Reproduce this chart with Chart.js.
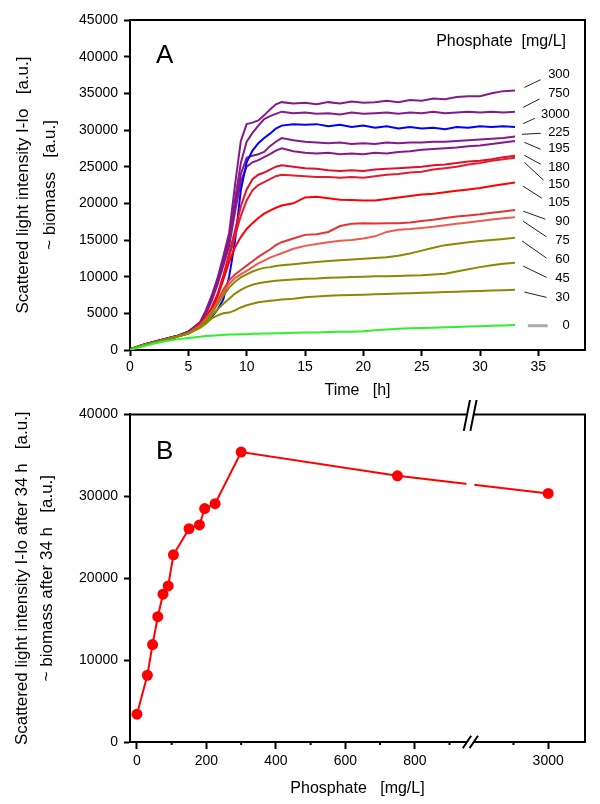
<!DOCTYPE html>
<html>
<head>
<meta charset="utf-8">
<script src="https://cdn.jsdelivr.net/npm/chart.js@4.4.1/dist/chart.umd.min.js"></script>
<style>
  body { margin: 0; background: #fff; }
  #wrap { position: relative; width: 600px; height: 804px; }
  canvas { position: absolute; left: 0; }
</style>
</head>
<body>
<div id="wrap">
  <canvas id="chartA" width="600" height="400" style="top:0"></canvas>
  <canvas id="chartB" width="600" height="404" style="top:400px"></canvas>
</div>
<script>
// ---- Panel A : scattered light vs time, one curve per phosphate level ----
const hours = [0, 1, 2, 3, 4, 5, 6,
  6.5, 7, 7.5, 8, 8.5, 9, 9.5, 10, 10.5, 11, 11.5, 12, 12.5, 13,
  14, 15, 16, 17, 18, 19, 20, 21, 22, 23, 24, 25, 26, 27, 28, 29, 30, 31, 32, 33];

const c0 = [0, 450, 850, 1200, 1450, 1650, 1800,
  1900, 1950, 2000, 2050, 2100, 2100, 2150, 2150, 2200, 2200, 2250, 2250, 2300, 2300,
  2350, 2400, 2400, 2450, 2500, 2500, 2550, 2700, 2800, 2900, 2950, 3000, 3050, 3100, 3150, 3200, 3250, 3300, 3350, 3400];
const c30 = [100, 600, 1000, 1400, 1800, 2200, 3000,
  3600, 4300, 4700, 5000, 5100, 5400, 5800, 6100, 6300, 6500, 6600, 6700, 6800, 6900,
  7000, 7200, 7300, 7400, 7450, 7500, 7550, 7600, 7650, 7700, 7750, 7800, 7850, 7900, 7950, 8000, 8050, 8100, 8150, 8200];
const c45 = [100, 600, 1000, 1400, 1800, 2250, 3100,
  3800, 4700, 5500, 6300, 7000, 7700, 8200, 8600, 8900, 9100, 9250, 9350, 9450, 9500,
  9600, 9700, 9750, 9850, 9900, 9950, 10000, 10050, 10050, 10100, 10150, 10200, 10300, 10400, 10700, 11000, 11300, 11550, 11750, 11900];
const c60 = [100, 600, 1000, 1400, 1800, 2300, 3200,
  4000, 5000, 6200, 7400, 8500, 9300, 9900, 10300, 10700, 11000, 11200, 11300, 11450, 11550,
  11700, 11850, 12000, 12150, 12250, 12350, 12450, 12550, 12650, 12850, 13150, 13550, 13950, 14300, 14500, 14700, 14850, 15000, 15150, 15300];
const c75 = [100, 600, 1000, 1400, 1800, 2300, 3300,
  4200, 5200, 6400, 7800, 9000, 9800, 10300, 10800, 11300, 11800, 12200, 12600, 12900, 13200,
  13800, 14200, 14450, 14700, 14900, 15000, 15200, 15500, 16100, 16400, 16500, 16650, 16800, 17000, 17200, 17400, 17600, 17800, 17950, 18100];
const c90 = [100, 600, 1000, 1400, 1800, 2300, 3300,
  4200, 5300, 6700, 8200, 9500, 10300, 10900, 11500, 12100, 12700, 13200, 13700, 14300, 14700,
  15200, 15700, 15800, 16100, 16900, 17200, 17300, 17250, 17300, 17300, 17400, 17600, 17750, 18000, 18200, 18350, 18500, 18700, 18900, 19100];
const c105 = [100, 600, 1000, 1400, 1800, 2300, 3400,
  4400, 5600, 7300, 9600, 12000, 14000, 15400, 16500, 17300, 18000, 18600, 19000, 19400, 19700,
  20000, 20800, 20900, 20700, 20500, 20450, 20400, 20400, 20600, 20800, 21000, 21200, 21300, 21500, 21700, 21900, 22100, 22350, 22600, 22850];
const c150 = [100, 600, 1000, 1400, 1800, 2300, 3500,
  4500, 5700, 7400, 9900, 12700, 15500, 18300, 20400, 21800, 22500, 22900, 23300, 23700, 23900,
  23800, 23700, 23600, 23600, 23500, 23600, 23500, 23700, 23900, 24000, 24200, 24300, 24600, 24800, 25000, 25300, 25500, 25800, 26000, 26200];
const c180 = [100, 600, 1000, 1400, 1800, 2300, 3600,
  4500, 5800, 7600, 10200, 13200, 16300, 19600, 21900, 23300, 23900, 24200, 24600, 25000, 25200,
  25000, 24800, 24700, 24500, 24400, 24500, 24400, 24600, 24700, 24800, 24900, 25000, 25200, 25300, 25500, 25700, 25800, 26000, 26300, 26500];
const c195 = [100, 650, 1100, 1500, 1900, 2500, 3600,
  4900, 6700, 8900, 11500, 14200, 18800, 23000, 25000, 25600, 25900, 26300, 26700, 27200, 27500,
  27100, 26900, 26800, 26900, 26700, 26800, 26700, 26900, 26800, 27000, 27100, 27300, 27400, 27500, 27600, 27800, 27900, 28100, 28300, 28500];
const c225 = [100, 650, 1100, 1500, 1900, 2500, 3600,
  5000, 6900, 9200, 12000, 14800, 19500, 24000, 26200, 26500, 26700, 27000, 27800, 28400, 28900,
  28600, 28400, 28300, 28200, 28300, 28100, 28200, 28100, 28300, 28200, 28300, 28300, 28400, 28400, 28500, 28600, 28700, 28800, 28900, 29100];
const c300 = [100, 650, 1100, 1500, 1900, 2500, 3800,
  5400, 7400, 9800, 12800, 16000, 22500, 28500, 30800, 31000, 31300, 32000, 32800, 33500, 33800,
  33600, 33700, 33500, 33800, 33600, 33900, 33700, 33800, 34000, 33800, 34100, 34000, 34300, 34200, 34500, 34600, 34600, 35000, 35300, 35400];
const c750 = [100, 650, 1100, 1500, 1900, 2500, 3700,
  5200, 7200, 9500, 12400, 15200, 20500, 25500, 28400, 29600, 30600, 31500, 31900, 32200, 32500,
  32300, 32400, 32200, 32300, 32100, 32400, 32200, 32300, 32400, 32200, 32400, 32300, 32500, 32300, 32400, 32500, 32400, 32500, 32400, 32500];
const c3000 = [100, 600, 1000, 1400, 1800, 2300, 3100,
  3700, 4500, 5500, 6900, 10000, 14800, 21800, 25600, 27200, 28200, 28900, 29500, 30200, 30600,
  30800, 30700, 30800, 30500, 30700, 30400, 30600, 30300, 30500, 30200, 30400, 30200, 30300, 30100, 30400, 30300, 30500, 30400, 30500, 30400];

// first one is drawn on top
const curveLevels = ['0', '30', '45', '60', '75', '90', '105', '150', '180', '3000', '195', '225', '300', '750'];
const curveValues = [c0, c30, c45, c60, c75, c90, c105, c150, c180, c3000, c195, c225, c300, c750];
const curveColors = ['#2ef02e', '#8a8a00', '#8a8a00', '#8a8a00', '#f05a4c', '#e33434', '#ff0000',
  '#e41c30', '#e0102c', '#0000ff', '#861a8a', '#861a8a', '#861a8a', '#861a8a'];

// right hand labels (top to bottom), positions in data units of panel A
const labelNames = ['300', '750', '3000', '225', '195', '180', '150', '105', '90', '75', '60', '45', '30', '0'];
const labelY = [37580, 34990, 32170, 29680, 27460, 24920, 22600, 20190, 17470, 14930, 12390, 9800, 7220, 3400];
const leaderFromX = [33.8, 33.7, 33.7, 33.6, 33.8, 33.8, 33.8, 33.7, 33.7, 33.7, 33.6, 33.7, 33.8, 34.1];
const leaderFromY = [35810, 33090, 30870, 29410, 28320, 26550, 25600, 22330, 18930, 17560, 14880, 11440, 7900, 3310];
const leaderToX = [35.2, 35.1, 34.7, 35.2, 35.2, 35.2, 35.45, 35.3, 35.6, 35.7, 35.7, 35.7, 35.7, 35.8];
const leaderToY = [36860, 34220, 31590, 29550, 27370, 25330, 23150, 20700, 17840, 15430, 12530, 9900, 7180, 3310];

// ---- Panel B : biomass after 34 h vs phosphate ----
const phosphate = [0, 30, 45, 60, 75, 90, 105, 150, 180, 195, 225, 300, 750, 3000];
const biomass34h = [3400, 8150, 11900, 15300, 18050, 19050, 22850, 26050, 26500, 28500, 29100, 35400, 32500, 30350];
const phosTickLabels = [0, 200, 400, 600, 800, 3000];
const phosMinorTicks = [100, 300, 500, 700, 900, 2900];

// broken x axis: everything above the break is shifted left
const BREAK_AT = 960;
const BREAK_SHIFT = 1816;
const toAxis = p => (p > BREAK_AT ? p - BREAK_SHIFT : p);
const fromAxis = v => (v > BREAK_AT ? v + BREAK_SHIFT : v);

const FONT = 'Arial, "Liberation Sans", Helvetica, sans-serif';
Chart.defaults.font.family = FONT;
Chart.defaults.color = '#000';

const axisGrid = { drawOnChartArea: false, drawTicks: true, tickLength: 6, tickColor: '#000', tickWidth: 2 };
const axisBorder = { display: true, color: '#000', width: 2 };

// frame + labels of panel A
const panelAPlugin = {
  id: 'panelA',
  afterDraw(chart) {
    const { ctx, chartArea: a, scales: { x, y } } = chart;
    ctx.save();
    ctx.strokeStyle = '#000';
    ctx.lineWidth = 2;
    ctx.beginPath();
    ctx.moveTo(a.left, a.top);
    ctx.lineTo(a.right, a.top);
    ctx.lineTo(a.right, a.bottom);
    ctx.stroke();

    ctx.fillStyle = '#000';
    ctx.textBaseline = 'alphabetic';
    ctx.textAlign = 'left';
    ctx.font = '26px ' + FONT;
    ctx.fillText('A', a.left + 26, a.top + 43);

    ctx.font = '16px ' + FONT;
    ctx.textAlign = 'right';
    ctx.textBaseline = 'middle';
    ctx.fillText('Phosphate  [mg/L]', a.right - 19, a.top + 22);

    ctx.font = '13px ' + FONT;
    labelNames.forEach((name, i) => {
      const last = name === '0';
      ctx.strokeStyle = last ? '#aaaaaa' : '#222';
      ctx.lineWidth = last ? 3 : 1;
      ctx.beginPath();
      ctx.moveTo(x.getPixelForValue(leaderFromX[i]), y.getPixelForValue(leaderFromY[i]));
      ctx.lineTo(x.getPixelForValue(leaderToX[i]), y.getPixelForValue(leaderToY[i]));
      ctx.stroke();
      ctx.fillText(name, x.getPixelForValue(37.7), y.getPixelForValue(labelY[i]));
    });
    ctx.restore();
  }
};

new Chart(document.getElementById('chartA'), {
  type: 'line',
  data: {
    datasets: curveLevels.map((level, k) => ({
      label: level,
      data: hours.map((t, i) => ({ x: t, y: curveValues[k][i] })),
      borderColor: curveColors[k],
      borderWidth: 2,
      pointRadius: 0,
      tension: 0,
      fill: false
    }))
  },
  options: {
    responsive: false,
    animation: false,
    layout: { padding: { left: 0, right: 15, top: 20, bottom: 0 } },
    plugins: { legend: { display: false }, tooltip: { enabled: false } },
    scales: {
      x: {
        type: 'linear', min: 0, max: 39,
        afterFit: s => { s.height = 50; },
        ticks: { stepSize: 5, includeBounds: false, maxRotation: 0, padding: 3, font: { size: 14 }, callback: v => String(v) },
        grid: axisGrid,
        border: axisBorder,
        title: { display: true, text: 'Time   [h]', font: { size: 16 }, padding: { top: 0, bottom: 0 } }
      },
      y: {
        min: 0, max: 45000,
        afterFit: s => { s.width = 130; },
        ticks: { stepSize: 5000, padding: 6, font: { size: 14 }, callback: v => String(v) },
        grid: axisGrid,
        border: axisBorder,
        title: {
          display: true,
          text: ['Scattered light intensity I-Io   [a.u.]', '~ biomass   [a.u.]'],
          font: { size: 17, lineHeight: '27px' },
          padding: { top: 9.5, bottom: 0 }
        }
      }
    }
  },
  plugins: [panelAPlugin]
});

// frame, axis break, minor ticks of panel B
const panelBPlugin = {
  id: 'panelB',
  afterDatasetsDraw(chart) {
    const { ctx, chartArea: a, scales: { x } } = chart;
    const xb = x.getPixelForValue(BREAK_AT);
    ctx.save();
    ctx.fillStyle = '#fff';
    ctx.fillRect(xb - 4, a.top + 25, 8, a.bottom - a.top - 50);
    ctx.restore();
  },
  afterDraw(chart) {
    const { ctx, chartArea: a, scales: { x } } = chart;
    const xb = x.getPixelForValue(BREAK_AT);
    ctx.save();
    ctx.strokeStyle = '#000';
    ctx.lineWidth = 2;

    // minor ticks
    ctx.beginPath();
    phosMinorTicks.forEach(p => {
      const px = x.getPixelForValue(toAxis(p));
      ctx.moveTo(px, a.bottom);
      ctx.lineTo(px, a.bottom + 3);
    });
    ctx.stroke();

    // top and right frame, top broken
    ctx.beginPath();
    ctx.moveTo(a.left, a.top);
    ctx.lineTo(xb - 3.3, a.top);
    ctx.moveTo(xb + 3.3, a.top);
    ctx.lineTo(a.right, a.top);
    ctx.lineTo(a.right, a.bottom);
    ctx.stroke();

    // break on bottom axis
    ctx.fillStyle = '#fff';
    ctx.fillRect(xb - 3.4, a.bottom - 3, 6.8, 6);

    ctx.beginPath();
    [-3.3, 3.3].forEach(d => {
      ctx.moveTo(xb + d - 3.3, a.top + 16.5);
      ctx.lineTo(xb + d + 3.3, a.top - 16.5);
    });
    [-3.4, 3.4].forEach(d => {
      ctx.moveTo(xb + d - 4.2, a.bottom + 6.3);
      ctx.lineTo(xb + d + 4.2, a.bottom - 6.3);
    });
    ctx.stroke();

    ctx.fillStyle = '#000';
    ctx.textAlign = 'left';
    ctx.textBaseline = 'alphabetic';
    ctx.font = '26px ' + FONT;
    ctx.fillText('B', a.left + 26, a.top + 44.5);
    ctx.restore();
  }
};

new Chart(document.getElementById('chartB'), {
  type: 'line',
  data: {
    datasets: [{
      label: 'after 34 h',
      data: phosphate.map((p, i) => ({ x: toAxis(p), y: biomass34h[i] })),
      borderColor: '#ff0000',
      borderWidth: 2,
      backgroundColor: '#ff0000',
      pointBackgroundColor: '#ff0000',
      pointBorderWidth: 0,
      pointRadius: 5.5,
      tension: 0,
      fill: false,
      clip: false
    }]
  },
  options: {
    responsive: false,
    animation: false,
    layout: { padding: { left: 0, right: 15, top: 11, bottom: 0 } },
    plugins: { legend: { display: false }, tooltip: { enabled: false } },
    scales: {
      x: {
        type: 'linear', min: -20, max: 1290,
        afterFit: s => { s.height = 62; },
        afterBuildTicks: s => { s.ticks = phosTickLabels.map(p => ({ value: toAxis(p) })); },
        ticks: { maxRotation: 0, autoSkip: false, padding: 4, font: { size: 14 }, callback: v => String(fromAxis(v)) },
        grid: Object.assign({}, axisGrid, { tickLength: 7 }),
        border: axisBorder,
        title: { display: true, text: 'Phosphate   [mg/L]', font: { size: 16 }, padding: { top: 0, bottom: 6 } }
      },
      y: {
        min: 0, max: 40000,
        afterFit: s => { s.width = 130; },
        ticks: { stepSize: 10000, padding: 6, font: { size: 14 }, callback: v => String(v) },
        grid: axisGrid,
        border: axisBorder,
        title: {
          display: true,
          text: ['Scattered light intensity I-Io after 34 h   [a.u.]', '~ biomass after 34 h   [a.u.]'],
          font: { size: 17, lineHeight: '25px' },
          padding: { top: 10, bottom: 0 }
        }
      }
    }
  },
  plugins: [panelBPlugin]
});
</script>
</body>
</html>
